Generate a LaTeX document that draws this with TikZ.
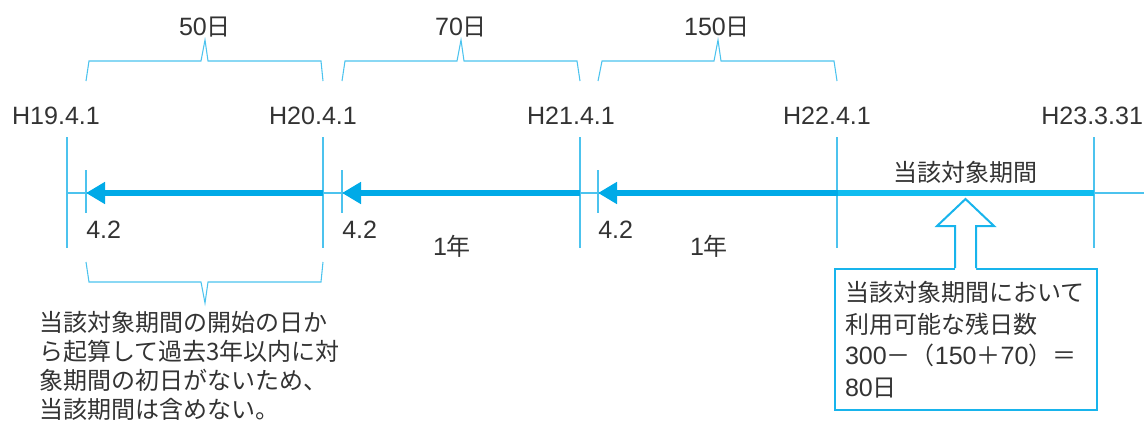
\documentclass[tikz,border=0pt]{standalone}
\usepackage{fontspec}
\setmainfont{Liberation Sans}
\newfontfamily\jp{Noto Sans CJK JP}
\usetikzlibrary{arrows.meta}
\definecolor{cyanA}{HTML}{00AAE7}
\definecolor{cyanB}{HTML}{10BDF0}
\definecolor{thinc}{HTML}{4CC3EE}
\definecolor{boxc}{HTML}{18B4EC}
\definecolor{txt}{HTML}{333333}
\tikzset{
  lbl/.style={inner sep=0pt, text=txt, font=\fontsize{18.8pt}{22pt}\selectfont},
  jlbl/.style={inner sep=0pt, text=txt, font=\jp\fontsize{18pt}{22pt}\selectfont},
  thinline/.style={draw=thinc, line width=0.9pt},
  bracel/.style={draw=thinc, line width=0.8pt, line join=miter},
  bigarrow/.style={line width=5pt, -{Triangle[length=14.25pt,width=15.75pt]}},
}
\newcommand{\jc}[1]{{\jp\fontsize{18pt}{22pt}\selectfont #1}}
\begin{document}
\begin{tikzpicture}[x=0.75pt,y=-0.75pt]
\useasboundingbox (0,0) rectangle (1144,421);

% timeline coordinates
\coordinate (y19) at (67,193);
\coordinate (y20) at (323,193);
\coordinate (y21) at (580,193);
\coordinate (y22) at (837,193);
\coordinate (y23) at (1094,193);
\coordinate (d19) at (86,193);
\coordinate (d20) at (342,193);
\coordinate (d21) at (598,193);
\coordinate (lineend) at (1144,193);

% thin baseline
\draw[thinline] (y19) -- (lineend);
% year ticks
\foreach \c in {y19,y20,y21,y22,y23}
  \draw[thinline] ([yshift=56*0.75pt]\c) -- ([yshift=-55*0.75pt]\c);
% 4.2 ticks
\foreach \c in {d19,d20,d21}
  \draw[thinline] ([yshift=23*0.75pt]\c) -- ([yshift=-20*0.75pt]\c);

% thick arrows
\draw[bigarrow, cyanA] (y20) -- (d19);
\draw[bigarrow, cyanA] (y21) -- (d20);
\draw[line width=5pt, cyanB] (y23) -- (y22);
\draw[bigarrow, cyanA] ([xshift=0.5pt]y22) -- (d21);

% date labels
\node[lbl] (h19) at (56,116) {H19.4.1};
\node[lbl] (h20) at (313,116) {H20.4.1};
\node[lbl] (h21) at (571,116) {H21.4.1};
\node[lbl] (h22) at (827,116) {H22.4.1};
\node[lbl, anchor=west] (h23) at (1041,116) {H23.3.31};

% 4.2 labels
\node[lbl, anchor=west] (a1) at (86,230) {4.2};
\node[lbl, anchor=west] (a2) at (342,230) {4.2};
\node[lbl, anchor=west] (a3) at (598,230) {4.2};

% 1年 labels
\node[lbl] (n1) at (452,246) {1\jc{年}};
\node[lbl] (n2) at (709,246) {1\jc{年}};

% top braces
\draw[bracel] (86,81) -- (89,61) -- (201,61) -- (205,40) -- (208,61) -- (321,61) -- (323,81);
\draw[bracel] (342,81) -- (345,61) -- (457,61) -- (461,40) -- (464,61) -- (577,61) -- (580,81);
\draw[bracel] (598,81) -- (602,61) -- (714,61) -- (718,40) -- (721,61) -- (834,61) -- (837,81);
\node[lbl] (b1) at (205,27) {50\jc{日}};
\node[lbl] (b2) at (461,27) {70\jc{日}};
\node[lbl] (b3) at (717,27) {150\jc{日}};

% current period label
\node[jlbl] (cur) at (965,172) {当該対象期間};

% bottom brace
\draw[bracel] (86,262) -- (89,282) -- (201,282) -- (205,303) -- (208,282) -- (321,282) -- (323,262);
\node[jlbl, anchor=west, align=left, font=\jp\fontsize{18pt}{21.75pt}\selectfont] (note) at (39,366)
  {当該対象期間の開始の日か\\ら起算して過去3年以内に対\\象期間の初日がないため、\\当該期間は含めない。};

% callout box
\node[lbl, draw=boxc, line width=1.5pt, anchor=north west, align=left,
      minimum width=262*0.75pt, minimum height=141*0.75pt,
      text width=242*0.75pt, inner xsep=7.5pt,
      font=\fontsize{18.8pt}{23.6pt}\selectfont] (box) at (834,268)
  {\jc{当該対象期間において}\\\jc{利用可能な残日数}\\300\jc{－（}150\jc{＋}70\jc{）＝}\\80\jc{日}};

% hollow up arrow from box to timeline
\fill[white] (955,270) -- (955,226) -- (937,226) -- (965.5,199) -- (994,226) -- (976,226) -- (976,270) -- cycle;
\draw[boxc, line width=1.5pt, line join=miter] (955,268) -- (955,226) -- (937,226) -- (965.5,199) -- (994,226) -- (976,226) -- (976,268);
\end{tikzpicture}
\end{document}
